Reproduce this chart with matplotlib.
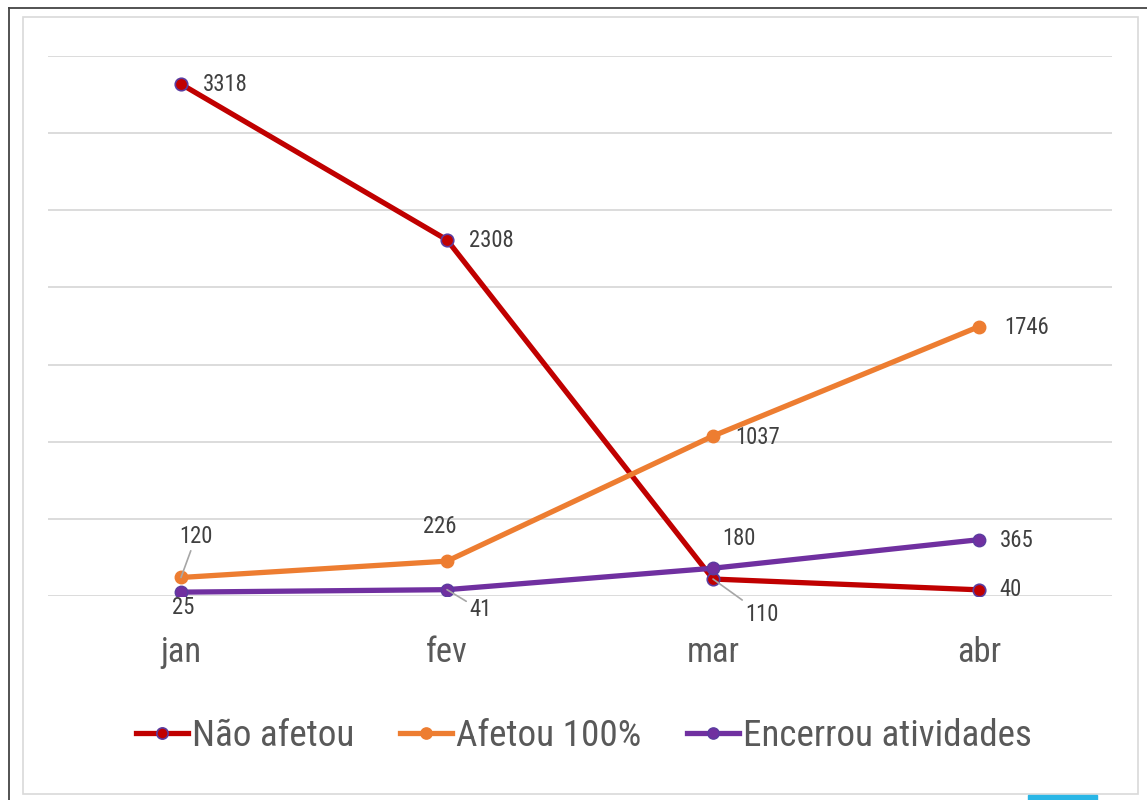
import matplotlib
matplotlib.use("Agg")
import matplotlib.pyplot as plt
from matplotlib import font_manager
from matplotlib.patches import Rectangle
from matplotlib.lines import Line2D

names = {f.name for f in font_manager.fontManager.ttflist}
FONT = "DejaVu Sans"
for cand in ["Roboto Condensed", "PT Sans Narrow", "Archivo Narrow", "Liberation Sans Narrow",
             "Open Sans Condensed", "Fira Sans Condensed", "Asap Condensed"]:
    if cand in names:
        FONT = cand
        break
plt.rcParams["font.family"] = [FONT, "DejaVu Sans"]

months = ["jan", "fev", "mar", "abr"]
nao_afetou = [3318, 2308, 110, 40]
afetou_100 = [120, 226, 1037, 1746]
encerrou = [25, 41, 180, 365]
series_names = ["Não afetou", "Afetou 100%", "Encerrou atividades"]

W, H = 1147, 800
fig = plt.figure(figsize=(W / 100, H / 100), dpi=100)
renderer = fig.canvas.get_renderer()


def fit_size(s, target_px):
    t = fig.text(0, 0, s, fontsize=20)
    w = t.get_window_extent(renderer).width
    t.remove()
    return 20 * target_px / w


TICK_FS = fit_size("jan", 41)
LAB_FS = fit_size("3318", 45)
LEG_FS = fit_size("Não afetou", 162)


def fx(px):
    return px / W


def fy(py):
    return 1 - py / H


# frames
fig.add_artist(Line2D([fx(9), fx(9)], [fy(8), 0], color="#444444", lw=1.3, transform=fig.transFigure))
fig.add_artist(Line2D([fx(9), 1], [fy(8), fy(8)], color="#444444", lw=1.3, transform=fig.transFigure))
fig.add_artist(Rectangle((fx(23), fy(794)), fx(1138) - fx(23), fy(17) - fy(794), fill=False,
                         edgecolor="#d9d9d9", lw=1.2, transform=fig.transFigure))
fig.add_artist(Rectangle((fx(1028), 0), fx(1097) - fx(1028), fy(795), color="#29b6e6",
                         transform=fig.transFigure))

ax = fig.add_axes([fx(48), fy(596), fx(1112) - fx(48), fy(56) - fy(596)])
ax.set_xlim(-0.5, 3.5)
ax.set_ylim(0, 3500)
ax.set_yticks(range(0, 3501, 500))
ax.yaxis.grid(True, color="#d9d9d9", lw=1.3)
ax.set_axisbelow(True)
for s in ax.spines.values():
    s.set_visible(False)
ax.tick_params(axis="y", left=False, labelleft=False)
x = list(range(len(months)))
ax.set_xticks(x)
ax.set_xticklabels(months, fontsize=TICK_FS, color="#595959")
ax.tick_params(axis="x", length=0, pad=28.5)

red, orange, purple = "#C00000", "#ED7D31", "#7030A0"
ax.plot(x, nao_afetou, color=red, lw=3.8, marker="o", ms=9, mfc=red, mec="#5a3ca0", mew=1.2,
        label=series_names[0], zorder=3)
ax.plot(x, afetou_100, color=orange, lw=3.8, marker="o", ms=9, mfc=orange, mec=orange,
        label=series_names[1], zorder=3)
ax.plot(x, encerrou, color=purple, lw=3.8, marker="o", ms=9, mfc=purple, mec="#5a3ca0",
        label=series_names[2], zorder=3)

lab = dict(fontsize=LAB_FS, color="#404040", va="center")
gray_arrow = dict(arrowstyle="-", color="#a6a6a6", lw=1.2, shrinkA=0, shrinkB=0)


def ann(val, xi, yi, dx, dy, ha="left", leader=False):
    kw = dict(textcoords="offset pixels", ha=ha, **lab)
    if leader:
        kw["arrowprops"] = gray_arrow
    ax.annotate(str(val), (xi, yi), xytext=(dx, dy), **kw)


# Não afetou
ann(nao_afetou[0], 0, nao_afetou[0], 22, 0)
ann(nao_afetou[1], 1, nao_afetou[1], 22, -1)
ann(nao_afetou[2], 2, nao_afetou[2], 32, -35, leader=True)
ann(nao_afetou[3], 3, nao_afetou[3], 20, 0)
# Afetou 100%
ann(afetou_100[0], 0, afetou_100[0], 15, 41, ha="center", leader=True)
ann(afetou_100[1], 1, afetou_100[1], -7, 35, ha="center")
ann(afetou_100[2], 2, afetou_100[2], 22, -1)
ann(afetou_100[3], 3, afetou_100[3], 25, -1)
# Encerrou
ann(encerrou[0], 0, encerrou[0], 2, -15, ha="center")
ann(encerrou[1], 1, encerrou[1], 22, -20, leader=True)
ann(encerrou[2], 2, encerrou[2], 26, 30, ha="center")
ann(encerrou[3], 3, encerrou[3], 21, -1)

leg_px = LEG_FS * 100 / 72
fig.legend(loc="center", bbox_to_anchor=(fx(584), fy(736)), ncol=3, frameon=False,
           fontsize=LEG_FS, labelcolor="#595959", handlelength=52 / leg_px,
           handletextpad=4 / leg_px, columnspacing=46 / leg_px, markerscale=0.9,
           borderpad=0, borderaxespad=0)

fig.savefig("out.png", dpi=100)
